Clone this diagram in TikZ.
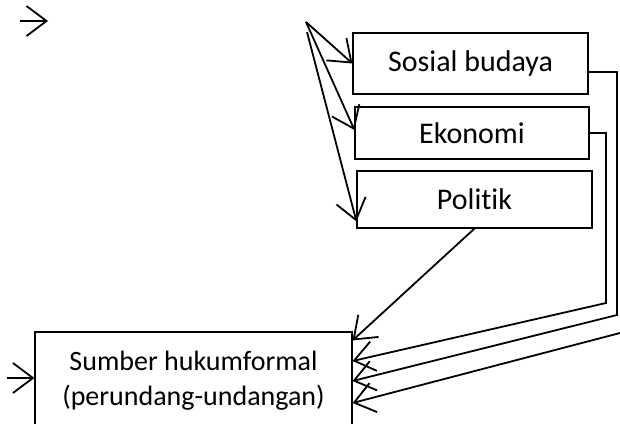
\documentclass[tikz,border=0pt]{standalone}
\usepackage{fontspec}
\setmainfont{Carlito}[Ligatures=NoCommon]
\usetikzlibrary{arrows.meta}

\begin{document}
\begin{tikzpicture}[x=1pt,y=-1pt,
    box/.style={draw, line width=1.1pt, inner sep=0pt, font=\fontsize{30}{34}\selectfont},
    link/.style={-{Straight Barb[length=20pt,width=30pt]}, line width=1.8pt}]
    \clip (0,0) rectangle (620,423);
    % kotak faktor
    \node[box, minimum width=235pt, minimum height=61pt] (sosial) at (470.5,63.5) {Sosial budaya};
    \node[box, minimum width=234pt, minimum height=52pt] (ekonomi) at (472,133) {Ekonomi};
    \node[box, minimum width=235pt, minimum height=57pt] (politik) at (474.5,199.5) {Politik};
    \node[box, minimum width=317pt, minimum height=98pt, align=center, font=\fontsize{28}{35}\selectfont] (sumber) at (193.5,381) {Sumber hukumformal\\(perundang-undangan)};
    % titik bebas
    \coordinate (kiri) at (20,21);
    \coordinate (kiriujung) at (48,21);
    \coordinate (masuk) at (7,378);
    \coordinate (fan) at (306,22);
    \coordinate (fanb) at (307,32);
    \coordinate (tepi) at (620,333);
    \draw[link] (kiri) -- (kiriujung);
    \draw[link] (masuk) -- (sumber.west |- masuk);
    \draw[link] (fan) -- (sosial.west);
    \draw[link] (fan) -- ([yshift=3pt]ekonomi.west);
    \draw[link] (fanb) -- ([yshift=-22pt]politik.west);
    \draw[link] (politik.south) -- ([yshift=-9pt]sumber.north east);
    \draw[link] (ekonomi.east) -- (606,133) -- (606,303) -- ([yshift=20pt]sumber.east);
    \draw[link] ([yshift=-8.5pt]sosial.east) -- (617,72) -- (617,315) -- (sumber.east);
    \draw[link] (tepi) -- ([yshift=-22pt]sumber.east);
\end{tikzpicture}
\end{document}
